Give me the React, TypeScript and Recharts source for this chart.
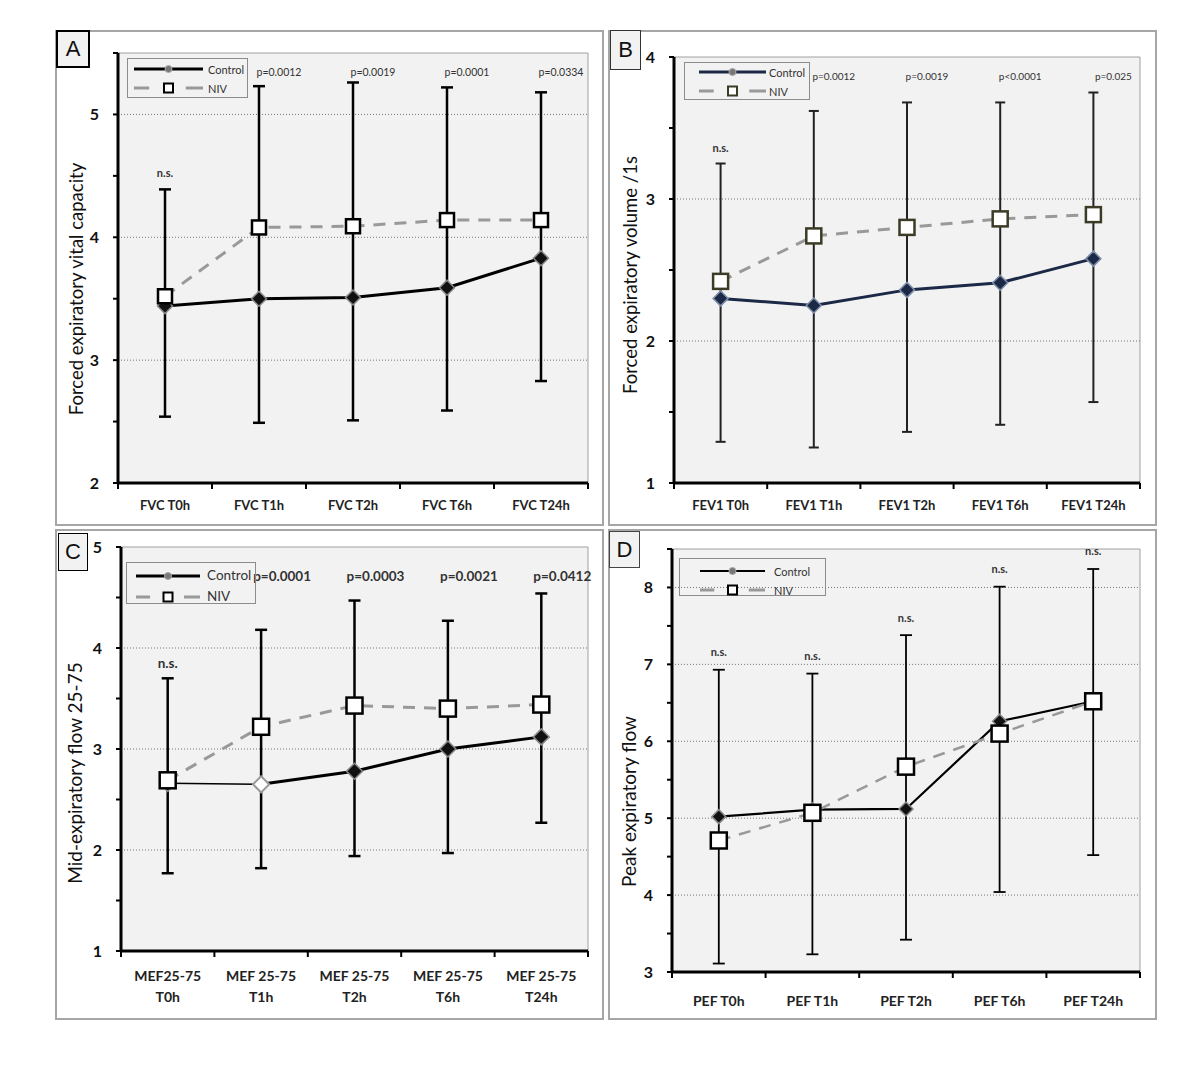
import React from 'react';
import {
  ComposedChart,
  Line,
  XAxis,
  YAxis,
  ErrorBar,
  LabelList,
  ReferenceArea,
  ReferenceLine,
  Legend,
} from 'recharts';

const FONT = 'Lato, "Open Sans", sans-serif';

// Panel A - forced vital capacity
const catsA = ['FVC T0h', 'FVC T1h', 'FVC T2h', 'FVC T6h', 'FVC T24h'];
const controlA = [3.44, 3.5, 3.51, 3.59, 3.83];
const nivA = [3.52, 4.08, 4.09, 4.14, 4.14];
const lowA = [2.54, 2.49, 2.51, 2.59, 2.83];
const highA = [4.39, 5.23, 5.26, 5.22, 5.18];
const pA = ['n.s.', 'p=0.0012', 'p=0.0019', 'p=0.0001', 'p=0.0334'];
const yTicksA = [2, 2.5, 3, 3.5, 4, 4.5, 5, 5.5];
const gridA = [3, 4, 5];

// Panel B - FEV1
const catsB = ['FEV1 T0h', 'FEV1 T1h', 'FEV1 T2h', 'FEV1 T6h', 'FEV1 T24h'];
const controlB = [2.3, 2.25, 2.36, 2.41, 2.58];
const nivB = [2.42, 2.74, 2.8, 2.86, 2.89];
const lowB = [1.29, 1.25, 1.36, 1.41, 1.57];
const highB = [3.25, 3.62, 3.68, 3.68, 3.75];
const pB = ['n.s.', 'p=0.0012', 'p=0.0019', 'p<0.0001', 'p=0.025'];
const yTicksB = [1, 1.5, 2, 2.5, 3, 3.5, 4];
const gridB = [2, 3];

// Panel C - MEF 25-75
const catsC = ['MEF25-75\nT0h', 'MEF 25-75\nT1h', 'MEF 25-75\nT2h', 'MEF 25-75\nT6h', 'MEF 25-75\nT24h'];
const controlC = [2.66, 2.65, 2.78, 3.0, 3.12];
const nivC = [2.69, 3.22, 3.43, 3.4, 3.44];
const lowC = [1.77, 1.82, 1.94, 1.97, 2.27];
const highC = [3.7, 4.18, 4.47, 4.27, 4.54];
const pC = ['n.s.', 'p=0.0001', 'p=0.0003', 'p=0.0021', 'p=0.0412'];
const yTicksC = [1, 1.5, 2, 2.5, 3, 3.5, 4, 4.5, 5];
const gridC = [2, 3, 4];

// Panel D - PEF
const catsD = ['PEF T0h', 'PEF T1h', 'PEF T2h', 'PEF T6h', 'PEF T24h'];
const controlD = [5.02, 5.11, 5.12, 6.26, 6.52];
const nivD = [4.71, 5.07, 5.67, 6.1, 6.52];
const lowD = [3.11, 3.23, 3.42, 4.04, 4.52];
const highD = [6.93, 6.88, 7.38, 8.01, 8.24];
const pD = ['n.s.', 'n.s.', 'n.s.', 'n.s.', 'n.s.'];
const yTicksD = [3, 3.5, 4, 4.5, 5, 5.5, 6, 6.5, 7, 7.5, 8, 8.5];
const gridD = [4, 5, 6, 7, 8];

const xTicks = [0, 0.5, 1, 1.5, 2, 2.5, 3, 3.5, 4, 4.5, 5];

const buildRows = (
  control: number[],
  niv: number[],
  low: number[],
  high: number[],
  p: string[],
  thinUntil: number
) =>
  control.map((v, i) => ({
    x: i + 0.5,
    control: i >= thinUntil ? v : null,
    controlThin: thinUntil > 0 && i <= thinUntil ? v : null,
    niv: niv[i],
    high: high[i],
    err: [high[i] - low[i], 0],
    p: p[i],
  }));

const panels = [
  {
    id: 'A',
    box: { left: 55, top: 30, w: 549, h: 496 },
    letterBox: { left: 1, top: 0, w: 34, h: 38, border: '2px solid #000' },
    margin: { top: 23, right: 16, bottom: 13 },
    yWidth: 63,
    xAxisH: 30,
    domain: [2, 5.5],
    yTicks: yTicksA,
    grid: gridA,
    cats: catsA,
    rows: buildRows(controlA, nivA, lowA, highA, pA, 0),
    hollow: [] as number[],
    yTitle: 'Forced expiratory vital capacity',
    yTitleX: 21,
    yTitleDy: 21,
    yTitleSize: 18.5,
    xFont: 13,
    xDy: 22,
    pFont: 10.5,
    pWeight: 400,
    pRow: 19,
    pDx: 20,
    pGap: 17,
    controlStroke: '#000',
    controlWidth: 3,
    diamondFill: '#111',
    diamondStroke: '#8a8a8a',
    diamondR: 7.5,
    nivWidth: 3,
    nivDash: '12 9',
    squareStroke: '#000',
    squareHalf: 7,
    errStroke: '#000',
    errWidth: 2.5,
    errCap: 6,
    legend: { left: 72, top: 28, w: 121, h: 40, pad: 6, sw: 69, tx: 80, r1: 10, r2: 29, font: 11 },
  },
  {
    id: 'B',
    box: { left: 608, top: 30, w: 549, h: 496 },
    letterBox: { left: 2, top: 0, w: 31, h: 40, border: '1px solid #333' },
    margin: { top: 27, right: 17, bottom: 13 },
    yWidth: 66,
    xAxisH: 30,
    domain: [1, 4],
    yTicks: yTicksB,
    grid: gridB,
    cats: catsB,
    rows: buildRows(controlB, nivB, lowB, highB, pB, 0),
    hollow: [] as number[],
    yTitle: 'Forced expiratory volume /1s',
    yTitleX: 22,
    yTitleDy: 5,
    yTitleSize: 18.5,
    xFont: 13,
    xDy: 22,
    pFont: 10,
    pWeight: 400,
    pRow: 19,
    pDx: 20,
    pGap: 16,
    controlStroke: '#1b2947',
    controlWidth: 3,
    diamondFill: '#1b2947',
    diamondStroke: '#7f8fa8',
    diamondR: 7.5,
    nivWidth: 3,
    nivDash: '12 9',
    squareStroke: '#3b3b26',
    squareHalf: 7.5,
    errStroke: '#222',
    errWidth: 2,
    errCap: 5,
    legend: { left: 76, top: 32, w: 126, h: 38, pad: 14, sw: 67, tx: 84, r1: 9, r2: 28, font: 11 },
  },
  {
    id: 'C',
    box: { left: 55, top: 529, w: 549, h: 491 },
    letterBox: { left: 3, top: 4, w: 30, h: 38, border: '1.5px solid #000' },
    margin: { top: 18, right: 16, bottom: 14 },
    yWidth: 66,
    xAxisH: 55,
    domain: [1, 5],
    yTicks: yTicksC,
    grid: gridC,
    cats: catsC,
    rows: buildRows(controlC, nivC, lowC, highC, pC, 1),
    hollow: [1],
    yTitle: 'Mid-expiratory flow 25-75',
    yTitleX: 19,
    yTitleDy: 24,
    yTitleSize: 19,
    xFont: 14,
    xDy: 24,
    pFont: 13.5,
    pWeight: 700,
    pRow: 29,
    pDx: 21,
    pGap: 15,
    controlStroke: '#000',
    controlWidth: 3,
    diamondFill: '#111',
    diamondStroke: '#8a8a8a',
    diamondR: 8,
    nivWidth: 3,
    nivDash: '12 9',
    squareStroke: '#000',
    squareHalf: 8,
    errStroke: '#000',
    errWidth: 2.5,
    errCap: 6,
    legend: { left: 71, top: 33, w: 130, h: 42, pad: 9, sw: 64, tx: 80, r1: 13, r2: 34, font: 13.5 },
  },
  {
    id: 'D',
    box: { left: 608, top: 529, w: 549, h: 491 },
    letterBox: { left: 1, top: 2, w: 31, h: 37, border: '1px solid #444' },
    margin: { top: 20, right: 17, bottom: 13 },
    yWidth: 64,
    xAxisH: 35,
    domain: [3, 8.5],
    yTicks: yTicksD,
    grid: gridD,
    cats: catsD,
    rows: buildRows(controlD, nivD, lowD, highD, pD, 0),
    hollow: [] as number[],
    yTitle: 'Peak expiratory flow',
    yTitleX: 20,
    yTitleDy: 41,
    yTitleSize: 19,
    xFont: 14,
    xDy: 28,
    pFont: 11,
    pWeight: 700,
    pRow: null as number | null,
    pDx: 0,
    pGap: 18,
    controlStroke: '#000',
    controlWidth: 2.2,
    diamondFill: '#111',
    diamondStroke: '#8a8a8a',
    diamondR: 7,
    nivWidth: 2.5,
    nivDash: '12 9',
    squareStroke: '#000',
    squareHalf: 8,
    errStroke: '#000',
    errWidth: 1.8,
    errCap: 6,
    legend: { left: 71, top: 29, w: 147, h: 38, pad: 20, sw: 65, tx: 94, r1: 12, r2: 31, font: 11 },
  },
];

type Cfg = (typeof panels)[number];

const LegendBox = ({ cfg }: { cfg: Cfg }) => {
  const L = cfg.legend;
  const mid = L.sw / 2;
  const row = (top: number, children: React.ReactNode, label: string) => (
    <>
      <svg width={L.sw} height={14} style={{ position: 'absolute', left: L.pad, top: top - 7 }}>
        {children}
      </svg>
      <span
        style={{
          position: 'absolute',
          left: L.tx,
          top,
          transform: 'translateY(-50%)',
          lineHeight: 1,
          whiteSpace: 'nowrap',
        }}
      >
        {label}
      </span>
    </>
  );
  return (
    <div
      style={{
        position: 'relative',
        width: L.w,
        height: L.h,
        boxSizing: 'border-box',
        border: '1px solid #8c8c8c',
        background: 'transparent',
        fontFamily: FONT,
        fontSize: L.font,
        color: '#333',
      }}
    >
      {row(
        L.r1,
        <>
          <line x1={0} x2={L.sw} y1={7} y2={7} stroke={cfg.controlStroke} strokeWidth={cfg.controlWidth} />
          <circle cx={mid} cy={7} r={3.5} fill="#777" stroke="#aaa" strokeWidth={1} />
        </>,
        'Control'
      )}
      {row(
        L.r2,
        <>
          <line x1={0} x2={L.sw * 0.22} y1={7} y2={7} stroke="#999" strokeWidth={3} />
          <line x1={L.sw * 0.75} x2={L.sw} y1={7} y2={7} stroke="#999" strokeWidth={3} />
          <rect x={mid - 4.5} y={2.5} width={9} height={9} fill="#fff" stroke={cfg.squareStroke} strokeWidth={2} />
        </>,
        'NIV'
      )}
    </div>
  );
};

const PanelChart = ({ cfg }: { cfg: Cfg }) => {
  const { box, margin } = cfg;

  const diamond = (hollowSet: number[]) => (props: any) => {
    const { cx, cy, index } = props;
    if (cx == null || cy == null || props.value == null) return <g key={`d${index}`} />;
    const r = cfg.diamondR;
    const hollow = hollowSet.includes(index);
    return (
      <polygon
        key={`d${index}`}
        points={`${cx},${cy - r} ${cx + r},${cy} ${cx},${cy + r} ${cx - r},${cy}`}
        fill={hollow ? '#fff' : cfg.diamondFill}
        stroke={hollow ? '#999' : cfg.diamondStroke}
        strokeWidth={hollow ? 2 : 1.5}
      />
    );
  };

  const square = (props: any) => {
    const { cx, cy, index } = props;
    if (cx == null || cy == null) return <g key={`s${index}`} />;
    const s = cfg.squareHalf;
    return (
      <rect
        key={`s${index}`}
        x={cx - s}
        y={cy - s}
        width={s * 2}
        height={s * 2}
        fill="#fff"
        stroke={cfg.squareStroke}
        strokeWidth={2.5}
      />
    );
  };

  const xTick = (props: any) => {
    const { x, y, payload } = props;
    const v = payload.value as number;
    if (Number.isInteger(v)) {
      return <line x1={x} x2={x} y1={y} y2={y + 6} stroke="#000" strokeWidth={2} />;
    }
    const lines = cfg.cats[Math.floor(v)].split('\n');
    const lh = cfg.xFont * 1.5;
    return (
      <text
        x={x}
        y={y + cfg.xDy}
        textAnchor="middle"
        dominantBaseline="central"
        fontFamily={FONT}
        fontSize={cfg.xFont}
        fontWeight={700}
        fill="#222"
      >
        {lines.map((l, i) => (
          <tspan key={i} x={x} dy={i === 0 ? 0 : lh}>
            {l}
          </tspan>
        ))}
      </text>
    );
  };

  const pLabel = (props: any) => {
    const { x, y, value, index } = props;
    const inRow = cfg.pRow != null && index > 0;
    const tx = inRow ? x + cfg.pDx : x;
    const ty = inRow ? margin.top + (cfg.pRow as number) : y - cfg.pGap;
    const ns = value === 'n.s.';
    return (
      <text
        x={tx}
        y={ty}
        textAnchor="middle"
        dominantBaseline="central"
        fontFamily={FONT}
        fontSize={ns ? Math.max(cfg.pFont, 11) : cfg.pFont}
        fontWeight={ns ? 700 : cfg.pWeight}
        fill="#333"
      >
        {value}
      </text>
    );
  };

  const yTitle = (props: any) => {
    const vb = props.viewBox || { x: 0, y: margin.top, height: box.h - margin.top - margin.bottom - cfg.xAxisH };
    const cx = vb.x + cfg.yTitleX;
    const cy = vb.y + vb.height / 2 + cfg.yTitleDy;
    return (
      <text
        x={cx}
        y={cy}
        transform={`rotate(-90, ${cx}, ${cy})`}
        textAnchor="middle"
        dominantBaseline="central"
        fontFamily={FONT}
        fontSize={cfg.yTitleSize}
        fill="#111"
      >
        {cfg.yTitle}
      </text>
    );
  };

  const [y0, y1] = cfg.domain;

  return (
    <div style={{ position: 'absolute', left: box.left, top: box.top, width: box.w, height: box.h }}>
      <ComposedChart
        width={box.w}
        height={box.h}
        data={cfg.rows}
        margin={{ top: margin.top, right: margin.right, bottom: margin.bottom, left: 0 }}
      >
        <ReferenceArea x1={0} x2={5} y1={y0} y2={y1} fill="#f2f2f2" fillOpacity={1} stroke="#a0a0a0" strokeWidth={1} />
        {cfg.grid.map((g) => (
          <ReferenceLine key={g} y={g} stroke="#777" strokeDasharray="1 2" strokeWidth={1} />
        ))}
        <XAxis
          type="number"
          dataKey="x"
          domain={[0, 5]}
          ticks={xTicks}
          interval={0}
          tickSize={0}
          tickMargin={0}
          tickLine={false}
          axisLine={{ stroke: '#000', strokeWidth: 3 }}
          height={cfg.xAxisH}
          tick={xTick}
        />
        <YAxis
          type="number"
          domain={cfg.domain}
          ticks={cfg.yTicks}
          interval={0}
          width={cfg.yWidth}
          tickSize={5}
          tickMargin={14}
          tickLine={{ stroke: '#000', strokeWidth: 2 }}
          axisLine={{ stroke: '#000', strokeWidth: 3 }}
          tickFormatter={(v: number) => (Number.isInteger(v) ? String(v) : '')}
          tick={{ fill: '#111', fontSize: 16, fontWeight: 700, fontFamily: FONT }}
          label={{ content: yTitle }}
        />
        <Legend
          layout="vertical"
          align="center"
          verticalAlign="middle"
          content={() => <LegendBox cfg={cfg} />}
          wrapperStyle={{ left: cfg.legend.left, top: cfg.legend.top, width: cfg.legend.w, height: cfg.legend.h }}
        />
        <Line
          dataKey="high"
          stroke="none"
          dot={false}
          activeDot={false}
          legendType="none"
          isAnimationActive={false}
        >
          <ErrorBar
            dataKey="err"
            direction="y"
            width={cfg.errCap}
            stroke={cfg.errStroke}
            strokeWidth={cfg.errWidth}
            isAnimationActive={false}
          />
          <LabelList dataKey="p" content={pLabel} />
        </Line>
        {cfg.rows.some((r) => r.controlThin != null) && (
          <Line
            dataKey="controlThin"
            type="linear"
            stroke={cfg.controlStroke}
            strokeWidth={1.5}
            dot={diamond([])}
            activeDot={false}
            connectNulls={false}
            isAnimationActive={false}
          />
        )}
        <Line
          dataKey="control"
          type="linear"
          stroke={cfg.controlStroke}
          strokeWidth={cfg.controlWidth}
          dot={diamond(cfg.hollow)}
          activeDot={false}
          connectNulls={false}
          isAnimationActive={false}
        />
        <Line
          dataKey="niv"
          type="linear"
          stroke="#999"
          strokeWidth={cfg.nivWidth}
          strokeDasharray={cfg.nivDash}
          dot={square}
          activeDot={false}
          isAnimationActive={false}
        />
      </ComposedChart>
      <div
        style={{
          position: 'absolute',
          inset: 0,
          border: '2px solid #a6a6a6',
          boxSizing: 'border-box',
          pointerEvents: 'none',
        }}
      />
      <div
        style={{
          position: 'absolute',
          left: cfg.letterBox.left,
          top: cfg.letterBox.top,
          width: cfg.letterBox.w,
          height: cfg.letterBox.h,
          boxSizing: 'border-box',
          border: cfg.letterBox.border,
          background: '#f2f2f2',
          fontFamily: '"Liberation Sans", Arial, sans-serif',
          fontSize: 22,
          display: 'flex',
          alignItems: 'center',
          justifyContent: 'center',
          color: '#111',
        }}
      >
        {cfg.id}
      </div>
    </div>
  );
};

export default function App() {
  return (
    <div style={{ position: 'absolute', left: 0, top: 0, width: 1200, height: 1073, background: '#fff' }}>
      {panels.map((p) => (
        <PanelChart key={p.id} cfg={p} />
      ))}
    </div>
  );
}
